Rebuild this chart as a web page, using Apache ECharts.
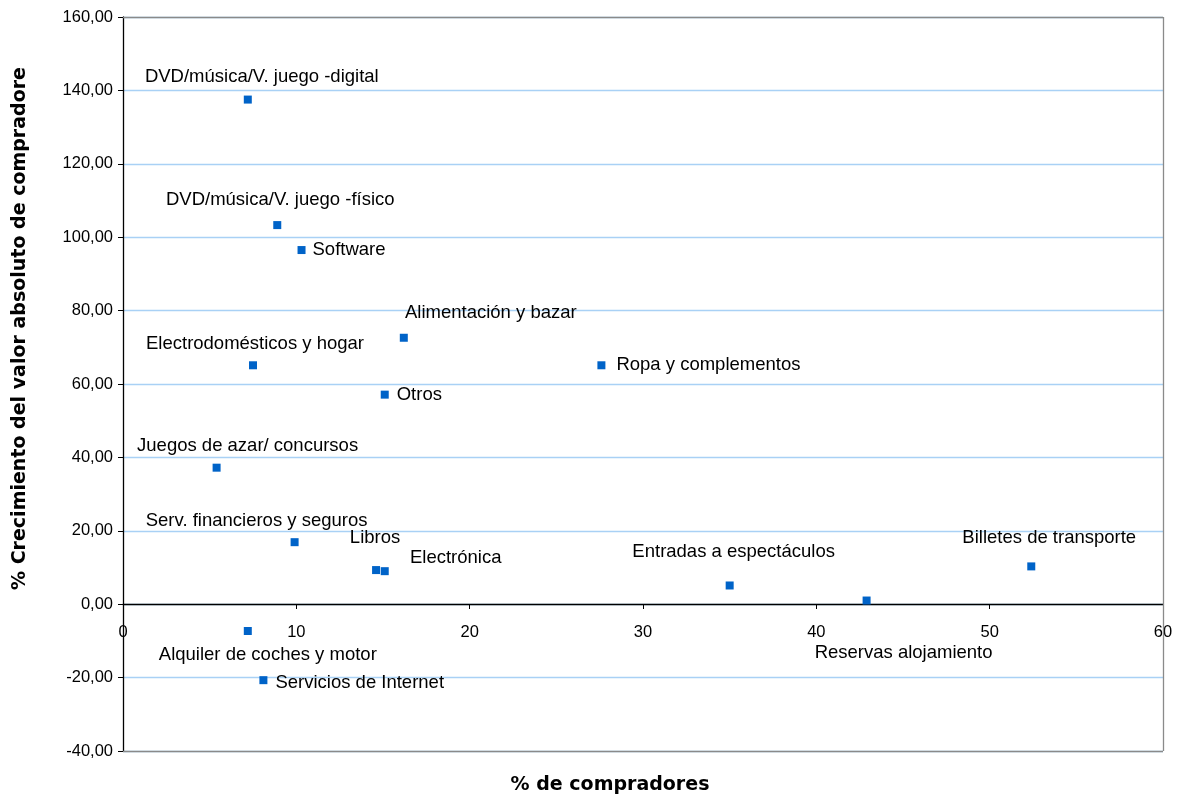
<!DOCTYPE html>
<html>
<head>
<meta charset="utf-8">
<script src="https://cdn.jsdelivr.net/npm/echarts@6/dist/echarts.min.js"></script>
<style>
html,body{margin:0;padding:0;background:#fff;}
#chart{width:1181px;height:798px;}
</style>
</head>
<body>
<div id="chart"></div>
<script>
// ---- data ----
const categories = [
  "DVD/música/V. juego -digital",
  "DVD/música/V. juego -físico",
  "Software",
  "Alimentación y bazar",
  "Electrodomésticos y hogar",
  "Ropa y complementos",
  "Otros",
  "Juegos de azar/ concursos",
  "Serv. financieros y seguros",
  "Libros",
  "Electrónica",
  "Entradas a espectáculos",
  "Billetes de transporte",
  "Reservas alojamiento",
  "Alquiler de coches y motor",
  "Servicios de Internet"
];
const pctCompradores = [7.2, 8.9, 10.3, 16.2, 7.5, 27.6, 15.1, 5.4, 9.9, 14.6, 15.1, 35.0, 52.4, 42.9, 7.2, 8.1];
const pctCrecimiento = [137.5, 103.3, 96.5, 72.6, 65.1, 65.1, 57.1, 37.2, 16.9, 9.3, 9.0, 5.1, 10.3, 1.0, -7.3, -20.7];
const xTicks = [0, 10, 20, 30, 40, 50, 60];
const yTicks = [-40, -20, 0, 20, 40, 60, 80, 100, 120, 140, 160];
const xTitle = '% de compradores';
const yTitle = '% Crecimiento del valor absoluto de compradore';

// ---- label placement (style, not data) ----
const labelPlacement = [
  {dx: 14, dy: -23, align: 'center'},
  {dx: 3, dy: -25, align: 'center'},
  {dx: 11, dy: 0, align: 'left'},
  {dx: 87, dy: -25, align: 'center'},
  {dx: 2, dy: -21, align: 'center'},
  {dx: 15, dy: 0, align: 'left'},
  {dx: 12, dy: 0, align: 'left'},
  {dx: 31, dy: -22, align: 'center'},
  {dx: -38, dy: -21, align: 'center'},
  {dx: -1, dy: -32, align: 'center'},
  {dx: 71, dy: -13, align: 'center'},
  {dx: 4, dy: -34, align: 'center'},
  {dx: 18, dy: -28, align: 'center'},
  {dx: 37, dy: 52, align: 'center'},
  {dx: 20, dy: 24, align: 'center'},
  {dx: 12, dy: 3, align: 'left'}
];

const points = categories.map((name, i) => ({
  name: name,
  value: [pctCompradores[i], pctCrecimiento[i]],
  label: {
    offset: [labelPlacement[i].dx, labelPlacement[i].dy],
    align: labelPlacement[i].align
  }
}));

const fmt = v => v.toFixed(2).replace('.', ',');

const chart = echarts.init(document.getElementById('chart'), null, {renderer: 'canvas'});
chart.setOption({
  backgroundColor: '#ffffff',
  animation: false,
  grid: {left: 123, top: 17, right: 18, bottom: 47, containLabel: false},
  xAxis: {
    type: 'value',
    position: 'bottom',
    offset: -147,
    min: xTicks[0], max: xTicks[xTicks.length - 1], interval: 10,
    axisLine: {show: true, onZero: false, lineStyle: {color: '#000', width: 1.3}},
    axisTick: {show: true, inside: false, length: 5, lineStyle: {color: '#000'}},
    axisLabel: {color: '#000', fontFamily: 'Liberation Sans, Arial, sans-serif', fontSize: 16.5, margin: 20},
    splitLine: {show: false}
  },
  yAxis: {
    type: 'value',
    min: yTicks[0], max: yTicks[yTicks.length - 1], interval: 20,
    axisLine: {show: true, onZero: false, lineStyle: {color: '#000', width: 1.3}},
    axisTick: {show: true, inside: false, length: 5, lineStyle: {color: '#000'}},
    axisLabel: {color: '#000', fontFamily: 'Liberation Sans, Arial, sans-serif', fontSize: 16.5, margin: 10, formatter: fmt},
    splitLine: {show: true, lineStyle: {color: '#a9d1f5', width: 1.3}}
  },
  graphic: [
    {
      type: 'text',
      x: 610, y: 785,
      style: {
        text: xTitle,
        font: 'bold 19px "DejaVu Sans"',
        fill: '#000',
        textAlign: 'center',
        textVerticalAlign: 'middle'
      }
    },
    {
      type: 'text',
      x: 20, y: 590,
      rotation: Math.PI / 2,
      style: {
        text: yTitle,
        font: 'bold 19px "DejaVu Sans"',
        fill: '#000',
        textAlign: 'left',
        textVerticalAlign: 'middle'
      }
    }
  ],
  series: [{
    type: 'scatter',
    symbol: 'rect',
    symbolSize: 8,
    itemStyle: {color: '#0063c8', opacity: 1},
    emphasis: {disabled: true},
    label: {
      show: true,
      position: 'inside',
      formatter: '{b}',
      color: '#000',
      textBorderWidth: 0,
      fontFamily: 'Liberation Sans, Arial, sans-serif',
      fontSize: 18.5,
      verticalAlign: 'middle'
    },
    data: points,
    markLine: {
      silent: true,
      symbol: 'none',
      label: {show: false},
      lineStyle: {color: '#8a8a8a', type: 'solid', width: 1.3},
      data: [{yAxis: 160}, {yAxis: -40}, {xAxis: 60}]
    }
  }]
});
</script>
</body>
</html>
